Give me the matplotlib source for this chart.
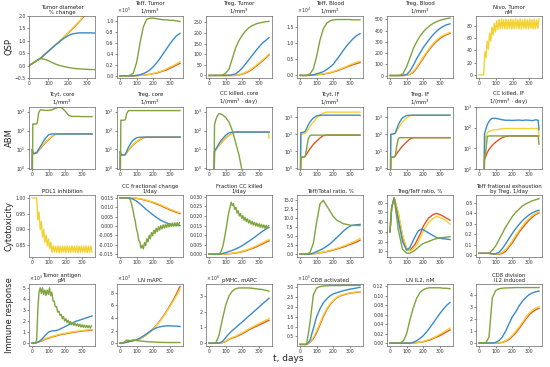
import numpy as np
import matplotlib
matplotlib.use("Agg")
import matplotlib.pyplot as plt
from matplotlib.ticker import NullLocator, FormatStrFormatter

# colores de las cuatro simulaciones
c_red = '#e2532d'
c_yel = '#f3d230'
c_blue = '#3a8bc6'
c_green = '#7ea43c'

# ---------------- datos ----------------
# malla gruesa de tiempo, dias
t = [0, 20, 40, 60, 80, 100, 120, 140, 160, 180, 200, 220, 240, 260, 280, 300, 320, 340, 360]
# malla semanal para curvas con dosis (oscilaciones)
t7 = list(range(0, 358, 7))
# malla del ABM
t_abm = [0, 2, 5, 10, 15, 20, 30, 33, 40, 50, 60, 70, 80, 100, 120, 140, 160, 180, 200, 220, 240, 260, 280, 300, 320, 340, 355, 360]
# malla del cociente Treg/Teff
t_ratio = [0, 10, 25, 50, 75, 100, 120, 150, 170, 190, 200, 230, 260, 280, 310, 340, 360]

# QSP
diam_red = [0, 0.1, 0.2, 0.3, 0.44, 0.58, 0.72, 0.86, 1.0, 1.15, 1.3, 1.45, 1.61, 1.78, 1.96, 2.14, 2.32, 2.5, 2.7]
diam_yel = [0, 0.1, 0.2, 0.31, 0.45, 0.59, 0.73, 0.87, 1.01, 1.16, 1.31, 1.47, 1.63, 1.8, 1.98, 2.16, 2.34, 2.52, 2.72]
diam_blue = [0, 0.1, 0.2, 0.3, 0.44, 0.58, 0.72, 0.85, 0.98, 1.1, 1.2, 1.27, 1.3, 1.32, 1.32, 1.32, 1.32, 1.31, 1.3]
diam_green = [0, 0.1, 0.2, 0.28, 0.26, 0.2, 0.12, 0.05, 0.0, -0.04, -0.07, -0.1, -0.12, -0.13, -0.14, -0.15, -0.16, -0.16, -0.17]

teff_t_red = [0, 0, 0, 0, 0, 0, 0.01, 0.01, 0.02, 0.03, 0.04, 0.05, 0.07, 0.09, 0.11, 0.14, 0.17, 0.2, 0.23]
teff_t_yel = [0, 0, 0, 0, 0, 0, 0.01, 0.01, 0.02, 0.03, 0.045, 0.06, 0.08, 0.1, 0.13, 0.16, 0.19, 0.22, 0.26]
teff_t_blue = [0, 0, 0, 0, 0, 0.01, 0.02, 0.04, 0.07, 0.11, 0.17, 0.24, 0.32, 0.41, 0.5, 0.59, 0.67, 0.74, 0.78]
teff_t_green = [0, 0, 0, 0.01, 0.05, 0.25, 0.6, 0.9, 1.04, 1.06, 1.06, 1.05, 1.04, 1.03, 1.03, 1.02, 1.02, 1.01, 1.0]

treg_t_red = [0, 0, 0, 0, 0, 0, 0, 0, 0, 2, 6, 12, 20, 30, 42, 55, 68, 82, 97]
treg_t_yel = [0, 0, 0, 0, 0, 0, 0, 0, 1, 3, 8, 15, 23, 34, 46, 59, 72, 86, 101]
treg_t_blue = [0, 0, 0, 0, 0, 0, 1, 3, 8, 20, 35, 55, 75, 95, 115, 135, 152, 165, 178]
treg_t_green = [0, 0, 0, 0, 2, 10, 30, 80, 130, 165, 190, 210, 225, 235, 242, 247, 250, 253, 255]

teff_b_red = [0, 0, 0, 0, 0.01, 0.02, 0.03, 0.04, 0.06, 0.08, 0.11, 0.14, 0.18, 0.22, 0.26, 0.3, 0.34, 0.37, 0.4]
teff_b_yel = [0, 0, 0, 0, 0.01, 0.02, 0.03, 0.05, 0.07, 0.09, 0.12, 0.16, 0.2, 0.24, 0.28, 0.33, 0.37, 0.41, 0.44]
teff_b_blue = [0, 0, 0, 0.01, 0.02, 0.05, 0.08, 0.12, 0.18, 0.26, 0.35, 0.49, 0.63, 0.78, 0.92, 1.04, 1.15, 1.24, 1.3]
teff_b_green = [0, 0, 0, 0.05, 0.2, 0.6, 1.1, 1.45, 1.62, 1.7, 1.73, 1.74, 1.74, 1.74, 1.74, 1.74, 1.73, 1.73, 1.73]

treg_b_red = [0, 0, 0, 0, 0, 2, 10, 30, 65, 110, 155, 200, 240, 275, 305, 330, 350, 365, 375]
treg_b_yel = [0, 0, 0, 0, 0, 3, 14, 38, 75, 120, 166, 210, 250, 285, 315, 340, 358, 372, 384]
treg_b_blue = [0, 0, 0, 0, 2, 10, 40, 90, 150, 200, 250, 290, 330, 365, 395, 420, 438, 452, 460]
treg_b_green = [0, 0, 0, 2, 20, 80, 160, 240, 300, 350, 390, 420, 445, 465, 480, 492, 500, 507, 512]

nivo_yel = [0, 0, 0, 0, 0, 38, 28, 55, 42, 68, 55, 78, 65, 84, 70, 88, 74,
            90, 75, 91, 76, 90, 75, 91, 75, 90, 76, 91, 75, 90, 75, 91, 76, 90, 75,
            91, 75, 90, 76, 91, 75, 90, 75, 91, 76, 90, 75, 91, 75, 90, 76, 91]

# ABM (log10 de la densidad)
tcyt_c_red = [-1, 1.0, 0.8, 0.78, 0.78, 0.8, 0.82, 0.85, 0.95, 1.05, 1.15, 1.25, 1.35, 1.52, 1.68, 1.8, 1.82, 1.82, 1.82, 1.82, 1.82, 1.82, 1.82, 1.82, 1.82, 1.82, 1.82, 1.82]
tcyt_c_yel = [-1, 1.0, 0.8, 0.78, 0.78, 0.8, 0.82, 0.86, 0.97, 1.08, 1.18, 1.28, 1.38, 1.55, 1.7, 1.8, 1.82, 1.82, 1.82, 1.82, 1.82, 1.82, 1.82, 1.82, 1.82, 1.82, 1.82, 1.82]
tcyt_c_blue = [-1, 1.0, 0.8, 0.78, 0.78, 0.8, 0.85, 0.9, 1.0, 1.15, 1.3, 1.45, 1.58, 1.78, 1.82, 1.82, 1.82, 1.82, 1.82, 1.82, 1.82, 1.82, 1.82, 1.82, 1.82, 1.82, 1.82, 1.82]
tcyt_c_green = [-1, -1, 2.35, 2.35, 2.35, 2.35, 2.36, 2.5, 2.95, 3.1, 3.1, 3.08, 3.07, 3.07, 3.1, 3.18, 3.25, 3.2, 3.02, 2.8, 2.75, 2.75, 2.75, 2.74, 2.74, 2.74, 2.74, 2.74]

treg_c_red = [-1, 0.9, 0.7, 0.7, 0.7, 0.7, 0.71, 0.73, 0.82, 0.95, 1.05, 1.15, 1.25, 1.4, 1.52, 1.62, 1.65, 1.65, 1.65, 1.65, 1.65, 1.65, 1.65, 1.65, 1.65, 1.65, 1.65, 1.65]
treg_c_yel = [-1, 0.9, 0.7, 0.7, 0.7, 0.7, 0.71, 0.74, 0.84, 0.97, 1.07, 1.17, 1.27, 1.42, 1.54, 1.63, 1.65, 1.65, 1.65, 1.65, 1.65, 1.65, 1.65, 1.65, 1.65, 1.65, 1.65, 1.65]
treg_c_blue = [-1, 0.9, 0.7, 0.7, 0.7, 0.7, 0.72, 0.76, 0.9, 1.1, 1.25, 1.4, 1.5, 1.62, 1.65, 1.65, 1.65, 1.65, 1.65, 1.65, 1.65, 1.65, 1.65, 1.65, 1.65, 1.65, 1.65, 1.65]
treg_c_green = [-1, -1, 2.55, 2.55, 2.55, 2.55, 2.56, 2.6, 2.9, 3.05, 3.06, 3.06, 3.06, 3.06, 3.06, 3.06, 3.06, 3.06, 3.06, 3.06, 3.06, 3.06, 3.06, 3.06, 3.06, 3.06, 3.06, 3.06]

cck_c_red = [-1, -1, -1, -1, -1, -1, -1, 0.9, 0.98, 1.1, 1.22, 1.32, 1.42, 1.6, 1.75, 1.87, 1.92, 1.92, 1.92, 1.92, 1.92, 1.92, 1.92, 1.92, 1.92, 1.92, 1.92, 1.92]
cck_c_yel = [-1, -1, -1, -1, -1, -1, -1, 0.9, 0.98, 1.1, 1.22, 1.32, 1.42, 1.6, 1.75, 1.87, 1.92, 1.92, 1.92, 1.92, 1.92, 1.92, 1.92, 1.92, 1.92, 1.92, 1.92, 1.6]
cck_c_blue = [-1, -1, -1, -1, -1, -1, -1, 0.9, 1.0, 1.15, 1.3, 1.45, 1.55, 1.75, 1.88, 1.92, 1.92, 1.92, 1.92, 1.92, 1.92, 1.92, 1.92, 1.92, 1.92, 1.92, 1.92, 1.92]
cck_c_green = [-1, -1, -1, -1, -1, -1, -1, 2.3, 2.55, 2.78, 2.9, 2.88, 2.84, 2.7, 2.45, 2.0, 1.35, 0.7, -0.2, -1, -1, -1, -1, -1, -1, -1, -1, -1]

tcyt_i_red = [-1, -1, 0.65, 0.65, 0.65, 0.65, 0.7, 0.75, 0.85, 1.0, 1.15, 1.28, 1.4, 1.6, 1.78, 1.92, 1.95, 1.95, 1.95, 1.95, 1.95, 1.95, 1.95, 1.95, 1.95, 1.95, 1.95, 1.95]
tcyt_i_yel = [-1, -1, 2.0, 2.0, 2.0, 2.02, 2.05, 2.08, 2.15, 2.3, 2.45, 2.6, 2.72, 2.95, 3.12, 3.25, 3.3, 3.3, 3.3, 3.3, 3.3, 3.3, 3.3, 3.3, 3.3, 3.3, 3.3, 3.3]
tcyt_i_blue = [-1, -1, 2.1, 2.1, 2.1, 2.12, 2.15, 2.2, 2.35, 2.55, 2.72, 2.85, 2.95, 3.08, 3.12, 3.12, 3.12, 3.12, 3.12, 3.12, 3.12, 3.12, 3.12, 3.12, 3.12, 3.12, 3.12, 3.1]
tcyt_i_green = [-1, -1, 0.65, 0.65, 0.65, 0.65, 0.68, 0.75, 1.2, 1.75, 1.92, 1.95, 1.95, 1.95, 1.95, 1.95, 1.95, 1.95, 1.95, 1.95, 1.95, 1.95, 1.95, 1.95, 1.95, 1.95, 1.95, 1.95]

treg_i_red = [-1, -1, 0.65, 0.65, 0.65, 0.65, 0.7, 0.75, 0.85, 1.0, 1.12, 1.25, 1.35, 1.55, 1.72, 1.8, 1.8, 1.8, 1.8, 1.8, 1.8, 1.8, 1.8, 1.8, 1.8, 1.8, 1.8, 1.8]
treg_i_yel = [-1, -1, 2.0, 2.0, 2.0, 2.02, 2.05, 2.08, 2.2, 2.35, 2.5, 2.65, 2.78, 2.95, 3.08, 3.12, 3.12, 3.12, 3.12, 3.12, 3.12, 3.12, 3.12, 3.12, 3.12, 3.12, 3.12, 3.12]
treg_i_blue = [-1, -1, 2.0, 2.0, 2.0, 2.02, 2.05, 2.1, 2.3, 2.55, 2.75, 2.9, 3.0, 3.1, 3.12, 3.12, 3.12, 3.12, 3.12, 3.12, 3.12, 3.12, 3.12, 3.12, 3.12, 3.12, 3.12, 3.12]
treg_i_green = [-1, -1, 0.65, 0.65, 0.65, 0.65, 0.7, 0.8, 1.3, 1.75, 1.8, 1.8, 1.8, 1.8, 1.8, 1.8, 1.8, 1.8, 1.8, 1.8, 1.8, 1.8, 1.8, 1.8, 1.8, 1.8, 1.8, 1.8]

cck_i_red = [-1, -1, -1, -1, -1, -1, -1, 0.45, 0.6, 0.8, 0.95, 1.05, 1.15, 1.3, 1.42, 1.52, 1.58, 1.6, 1.6, 1.6, 1.6, 1.6, 1.6, 1.6, 1.6, 1.6, 1.6, 1.6]
cck_i_yel = [-1, -1, -1, -1, -1, -1, -1, 1.1, 1.55, 1.75, 1.82, 1.85, 1.88, 1.9, 1.92, 1.95, 1.96, 1.96, 1.96, 1.96, 1.96, 1.96, 1.96, 1.96, 1.96, 1.96, 1.96, 1.6]
cck_i_blue = [-1, -1, -1, -1, -1, -1, -1, 1.7, 1.9, 2.15, 2.3, 2.4, 2.45, 2.45, 2.42, 2.38, 2.36, 2.36, 2.35, 2.36, 2.37, 2.35, 2.37, 2.36, 2.34, 2.38, 2.36, 1.9]
cck_i_green = [-1, -1, -1, -1, -1, -1, -1, 0.6, 0.8, 1.58, 1.6, 1.6, 1.6, 1.6, 1.6, 1.6, 1.6, 1.6, 1.6, 1.6, 1.6, 1.6, 1.6, 1.6, 1.6, 1.6, 1.6, 1.2]

# Citotoxicidad
pdl1_yel = [1.0, 1.0, 1.0, 1.0, 1.0, 0.93, 0.955, 0.90, 0.925, 0.875, 0.90, 0.86, 0.882, 0.848, 0.87, 0.84, 0.86,
            0.828, 0.848, 0.829, 0.847, 0.828, 0.848, 0.827, 0.847, 0.828, 0.848, 0.829, 0.847, 0.828, 0.848,
            0.827, 0.847, 0.828, 0.848, 0.829, 0.847, 0.828, 0.848, 0.827, 0.847, 0.828, 0.848, 0.829, 0.847,
            0.828, 0.848, 0.827, 0.847, 0.828, 0.848, 0.829]

ccf_red = [0.015, 0.015, 0.015, 0.015, 0.0149, 0.0147, 0.0144, 0.014, 0.0135, 0.013, 0.0124, 0.0117, 0.011, 0.0102, 0.0094, 0.0086, 0.0079, 0.0072, 0.0066]
ccf_yel = [0.015, 0.015, 0.015, 0.015, 0.015, 0.0148, 0.0145, 0.0142, 0.0137, 0.0132, 0.0127, 0.0121, 0.0114, 0.0106, 0.0098, 0.009, 0.0083, 0.0076, 0.007]
ccf_blue = [0.015, 0.015, 0.015, 0.0148, 0.0142, 0.0132, 0.0118, 0.0102, 0.0086, 0.0072, 0.0058, 0.0045, 0.0033, 0.0024, 0.0016, 0.001, 0.0006, 0.0003, 0.0002]
ccf_green = [0.015, 0.015, 0.015, 0.015, 0.015, 0.015, 0.015, 0.015, 0.015, 0.0135, 0.0115, 0.0088, 0.0055, 0.0028,
             -0.0012, -0.0035, -0.0075, -0.0085, -0.0118, -0.0102, -0.0122, -0.0088, -0.0105, -0.0068, -0.0085,
             -0.0050, -0.0068, -0.0035, -0.0052, -0.0022, -0.0040, -0.0012, -0.0030, -0.0004, -0.0022, 0.0002,
             -0.0016, 0.0006, -0.0011, 0.0009, -0.0008, 0.0012, -0.0005, 0.0014, -0.0003, 0.0016, -0.0001,
             0.0017, 0.0000, 0.0018, 0.0001, 0.0018]

fck_red = [0, 0, 0, 0, 0, 0.0001, 0.0002, 0.0004, 0.0006, 0.0009, 0.0013, 0.0018, 0.0024, 0.003, 0.0037, 0.0045, 0.0053, 0.0062, 0.007]
fck_yel = [0, 0, 0, 0, 0, 0.0001, 0.0003, 0.0005, 0.0008, 0.0011, 0.0016, 0.0021, 0.0027, 0.0034, 0.0042, 0.005, 0.0059, 0.0068, 0.0077]
fck_blue = [0, 0, 0, 0, 0.0003, 0.0008, 0.0014, 0.002, 0.0027, 0.0035, 0.0045, 0.0056, 0.0068, 0.008, 0.0093, 0.0106, 0.0119, 0.0131, 0.014]
fck_green = [0, 0, 0, 0, 0, 0, 0, 0, 0, 0.0003, 0.001, 0.0025, 0.0045, 0.0075, 0.011, 0.0145, 0.0185, 0.022,
             0.0245, 0.0272, 0.0255, 0.0265, 0.0235, 0.0245, 0.0215, 0.0228, 0.0200, 0.0213, 0.0188, 0.0202,
             0.0178, 0.0193, 0.0170, 0.0185, 0.0163, 0.0178, 0.0157, 0.0172, 0.0152, 0.0167, 0.0148, 0.0163,
             0.0144, 0.0159, 0.0141, 0.0156, 0.0138, 0.0153, 0.0136, 0.0151, 0.0134, 0.0149]

tt_red = [0, 0, 0, 0, 0.1, 0.2, 0.35, 0.5, 0.7, 0.9, 1.15, 1.4, 1.7, 2.0, 2.35, 2.7, 3.05, 3.4, 3.9]
tt_yel = [0, 0, 0, 0, 0.1, 0.25, 0.4, 0.6, 0.8, 1.05, 1.3, 1.6, 1.9, 2.25, 2.6, 3.0, 3.4, 3.85, 4.4]
tt_blue = [0, 0, 0, 0, 0.3, 0.7, 1.1, 1.6, 2.2, 2.9, 3.7, 4.6, 5.5, 6.4, 7.2, 7.8, 8.1, 8.2, 8.3]
tt_green = [0, 0, 0, 0.5, 3.0, 9.0, 14.0, 15.0, 13.5, 12.0, 10.5, 9.5, 9.0, 8.5, 8.3, 8.1, 8.0, 8.0, 8.0]

rt_red = [30, 55, 65, 48, 25, 12, 11, 17, 24, 31, 36, 44, 48, 49, 47, 44, 42]
rt_yel = [30, 55, 65, 50, 27, 13, 10, 14, 20, 27, 31, 39, 44, 46, 44, 41, 38]
rt_blue = [30, 55, 65, 42, 20, 11, 14, 25, 31, 33, 32, 29, 26, 24, 23, 22.5, 22]
rt_green = [30, 55, 65, 32, 12, 8, 8, 11, 14, 17, 18, 20, 22, 23, 24, 24.5, 25]

ex_red = [0.02, 0.02, 0.02, 0.02, 0.015, 0.01, 0.01, 0.02, 0.04, 0.08, 0.12, 0.17, 0.22, 0.26, 0.3, 0.335, 0.365, 0.39, 0.405]
ex_yel = [0.02, 0.02, 0.02, 0.02, 0.015, 0.012, 0.015, 0.03, 0.055, 0.095, 0.14, 0.19, 0.235, 0.28, 0.32, 0.35, 0.38, 0.4, 0.415]
ex_blue = [0.02, 0.02, 0.02, 0.02, 0.015, 0.015, 0.03, 0.065, 0.11, 0.16, 0.21, 0.255, 0.295, 0.33, 0.36, 0.385, 0.405, 0.42, 0.43]
ex_green = [0.02, 0.02, 0.02, 0.02, 0.05, 0.09, 0.15, 0.21, 0.27, 0.32, 0.37, 0.41, 0.44, 0.47, 0.49, 0.505, 0.52, 0.53, 0.54]

# Respuesta inmune
ag_red = [0, 0, 0.1, 0.2, 0.35, 0.45, 0.55, 0.62, 0.72, 0.78, 0.84, 0.9, 0.95, 1.0, 1.04, 1.08, 1.12, 1.15, 1.18]
ag_yel = [0, 0.02, 0.12, 0.24, 0.4, 0.5, 0.6, 0.67, 0.77, 0.83, 0.89, 0.95, 1.0, 1.05, 1.09, 1.13, 1.17, 1.2, 1.24]
ag_blue = [0, 0, 0.1, 0.35, 0.7, 1.0, 1.1, 1.12, 1.2, 1.35, 1.5, 1.65, 1.8, 1.95, 2.05, 2.15, 2.25, 2.35, 2.45]
ag_green = [0, 0, 0, 0, 0.3, 3.0, 4.6, 5.0, 4.5, 5.0, 4.4, 4.8, 4.3, 4.8, 4.4, 5.0, 4.3, 4.6, 3.8, 3.8,
            3.3, 3.3, 2.8, 2.9, 2.5, 2.6, 2.2, 2.4, 2.0, 2.2, 1.85, 2.05, 1.75, 1.95, 1.65, 1.85, 1.6, 1.8,
            1.55, 1.75, 1.5, 1.7, 1.45, 1.65, 1.42, 1.62, 1.4, 1.6, 1.38, 1.58, 1.36, 1.56]

map_red = [0, 0.05, 0.15, 0.3, 0.4, 0.5, 0.7, 1.0, 1.35, 1.8, 2.3, 2.9, 3.55, 4.3, 5.1, 6.0, 6.9, 7.9, 9.0]
map_yel = [0, 0.05, 0.15, 0.3, 0.4, 0.5, 0.7, 1.0, 1.35, 1.78, 2.27, 2.85, 3.5, 4.2, 5.0, 5.85, 6.7, 7.6, 8.6]
map_blue = [0, 0.05, 0.15, 0.3, 0.4, 0.55, 0.8, 1.15, 1.5, 1.9, 2.2, 2.45, 2.6, 2.7, 2.75, 2.75, 2.72, 2.7, 2.65]
map_green = [0, 0.05, 0.5, 0.4, 0.5, 0.4, 0.35, 0.3, 0.25, 0.2, 0.18, 0.15, 0.13, 0.12, 0.1, 0.1, 0.1, 0.1, 0.1]

pm_red = [0, 0, 0, 0, 0.03, 0.1, 0.25, 0.33, 0.4, 0.5, 0.6, 0.72, 0.85, 0.95, 1.05, 1.15, 1.25, 1.35, 1.45]
pm_yel = [0, 0, 0, 0, 0.04, 0.12, 0.28, 0.36, 0.44, 0.55, 0.66, 0.78, 0.91, 1.02, 1.13, 1.24, 1.35, 1.45, 1.55]
pm_blue = [0, 0, 0, 0, 0.1, 0.35, 0.6, 0.8, 0.98, 1.17, 1.35, 1.54, 1.73, 1.91, 2.1, 2.29, 2.48, 2.66, 2.85]
pm_green = [0, 0, 0, 0.5, 1.5, 2.4, 3.0, 3.3, 3.45, 3.5, 3.5, 3.5, 3.5, 3.48, 3.45, 3.42, 3.4, 3.35, 3.3]

cd8_red = [0.1, 0.1, 0.1, 0.2, 0.4, 0.7, 1.1, 1.5, 1.85, 2.1, 2.3, 2.45, 2.55, 2.6, 2.65, 2.68, 2.71, 2.73, 2.75]
cd8_yel = [0.1, 0.1, 0.1, 0.22, 0.45, 0.78, 1.18, 1.57, 1.9, 2.14, 2.33, 2.47, 2.57, 2.62, 2.67, 2.7, 2.73, 2.75, 2.77]
cd8_blue = [0.1, 0.1, 0.1, 0.3, 0.9, 1.5, 1.9, 2.2, 2.4, 2.55, 2.65, 2.71, 2.76, 2.81, 2.85, 2.89, 2.92, 2.95, 2.98]
cd8_green = [0.1, 0.1, 0.1, 1.2, 2.6, 2.95, 3.02, 3.05, 3.06, 3.07, 3.07, 3.07, 3.07, 3.08, 3.08, 3.08, 3.08, 3.08, 3.08]

il2_red = [0, 0, 0, 0, 0, 0, 0, 0, 0.001, 0.002, 0.003, 0.005, 0.007, 0.01, 0.013, 0.016, 0.02, 0.024, 0.028]
il2_yel = [0, 0, 0, 0, 0, 0, 0, 0.0005, 0.0012, 0.0025, 0.0038, 0.006, 0.0085, 0.0115, 0.015, 0.019, 0.023, 0.0275, 0.032]
il2_blue = [0, 0, 0, 0, 0, 0, 0, 0.002, 0.005, 0.01, 0.016, 0.024, 0.033, 0.043, 0.053, 0.063, 0.072, 0.08, 0.086]
il2_green = [0, 0, 0, 0, 0.005, 0.02, 0.05, 0.075, 0.095, 0.107, 0.113, 0.116, 0.117, 0.117, 0.117, 0.117, 0.116, 0.116, 0.115]

div_red = [0, 0, 0, 0, 0, 0, 0, 0.05, 0.15, 0.3, 0.55, 0.85, 1.2, 1.6, 2.0, 2.35, 2.6, 2.8, 2.9]
div_yel = [0, 0, 0, 0, 0, 0, 0.02, 0.08, 0.2, 0.38, 0.65, 0.97, 1.33, 1.73, 2.12, 2.48, 2.75, 2.93, 3.05]
div_blue = [0, 0, 0, 0, 0, 0.05, 0.2, 0.5, 1.0, 1.6, 2.2, 2.6, 3.1, 3.5, 3.8, 4.05, 4.2, 4.3, 4.35]
div_green = [0, 0, 0, 0.5, 3.8, 4.4, 4.55, 4.6, 4.62, 4.63, 4.64, 4.65, 4.65, 4.65, 4.65, 4.65, 4.65, 4.65, 4.65]

# ---------------- figura ----------------
fig = plt.figure(figsize=(5.5, 3.67), dpi=100)
izq = [29, 117, 206, 297, 387, 476]   # borde izquierdo de cada columna, px
arr = [16, 107, 195, 284]             # borde superior de cada fila, px
W, H = 66, 62


def eje(fila, col):
    ax = fig.add_axes([izq[col] / 550, 1 - (arr[fila] + H) / 367, W / 550, H / 367])
    ax.tick_params(labelsize=3.3, length=1.5, width=0.4, pad=1, colors='#333')
    for s in ax.spines.values():
        s.set_linewidth(0.5)
        s.set_color('#666')
    ax.set_xticks([0, 100, 200, 300])
    return ax


def curvas(ax, x, rojo=None, amarillo=None, azul=None, verde=None, log=False):
    for y, c in [(rojo, c_red), (amarillo, c_yel), (azul, c_blue), (verde, c_green)]:
        if y is None:
            continue
        y = np.array(y, dtype=float)
        if log:
            y = 10 ** y
        ax.plot(x, y, color=c, lw=1.0)


def titulo(ax, txt):
    ax.set_title(txt, fontsize=3.9, pad=1.5, linespacing=1.1, color='#222')


def escala(ax, exp):
    ax.text(0.0, 1.015, r'$\times\,10^{%d}$' % exp, transform=ax.transAxes,
            fontsize=3.3, va='bottom', ha='left', color='#333')


def log_eje(ax, top):
    ax.set_yscale('log')
    ax.set_ylim(10 ** -0.04, 10 ** top)
    ax.set_yticks([1, 10, 100, 1000])
    ax.yaxis.set_minor_locator(NullLocator())


# fila 1: QSP
ax = eje(0, 0)
curvas(ax, t, diam_red, diam_yel, diam_blue, diam_green)
ax.set_xlim(0, 340)
ax.set_ylim(-0.5, 2.0)
ax.set_yticks([-0.5, 0, 0.5, 1.0, 1.5, 2.0])
titulo(ax, 'Tumor diameter\n% change')

ax = eje(0, 1)
curvas(ax, t, teff_t_red, teff_t_yel, teff_t_blue, teff_t_green)
ax.set_ylim(-0.04, 1.1)
ax.set_yticks([0, 0.2, 0.4, 0.6, 0.8, 1.0])
titulo(ax, 'Teff, Tumor\n1/mm$^3$')
escala(ax, 5)

ax = eje(0, 2)
curvas(ax, t, treg_t_red, treg_t_yel, treg_t_blue, treg_t_green)
ax.set_ylim(-12, 280)
ax.set_yticks([0, 50, 100, 150, 200, 250])
titulo(ax, 'Treg, Tumor\n1/mm$^3$')

ax = eje(0, 3)
curvas(ax, t, teff_b_red, teff_b_yel, teff_b_blue, teff_b_green)
ax.set_ylim(-0.08, 1.85)
ax.set_yticks([0, 0.5, 1.0, 1.5])
titulo(ax, 'Teff, Blood\n1/mm$^3$')
escala(ax, 4)

ax = eje(0, 4)
curvas(ax, t, treg_b_red, treg_b_yel, treg_b_blue, treg_b_green)
ax.set_ylim(-22, 530)
ax.set_yticks([0, 100, 200, 300, 400, 500])
titulo(ax, 'Treg, Blood\n1/mm$^3$')

ax = eje(0, 5)
curvas(ax, t7, amarillo=nivo_yel)
ax.set_ylim(-5, 96)
ax.set_yticks([0, 20, 40, 60, 80])
titulo(ax, 'Nivo, Tumor\nnM')

# fila 2: ABM
ax = eje(1, 0)
curvas(ax, t_abm, tcyt_c_red, tcyt_c_yel, tcyt_c_blue, tcyt_c_green, log=True)
log_eje(ax, 3.25)
titulo(ax, 'Tcyt, core\n1/mm$^3$')

ax = eje(1, 1)
curvas(ax, t_abm, treg_c_red, treg_c_yel, treg_c_blue, treg_c_green, log=True)
log_eje(ax, 3.25)
titulo(ax, 'Treg, core\n1/mm$^3$')

ax = eje(1, 2)
curvas(ax, t_abm, cck_c_red, cck_c_yel, cck_c_blue, cck_c_green, log=True)
log_eje(ax, 3.25)
titulo(ax, 'CC killed, core\n1/(mm$^3$ · day)')

ax = eje(1, 3)
curvas(ax, t_abm, tcyt_i_red, tcyt_i_yel, tcyt_i_blue, tcyt_i_green, log=True)
log_eje(ax, 3.6)
titulo(ax, 'Tcyt, IF\n1/mm$^3$')

ax = eje(1, 4)
curvas(ax, t_abm, treg_i_red, treg_i_yel, treg_i_blue, treg_i_green, log=True)
log_eje(ax, 3.6)
titulo(ax, 'Treg, IF\n1/mm$^3$')

ax = eje(1, 5)
curvas(ax, t_abm, cck_i_red, cck_i_yel, cck_i_blue, cck_i_green, log=True)
log_eje(ax, 3.0)
ax.set_ylim(1, 1000)
titulo(ax, 'CC killed, IF\n1/(mm$^3$ · day)')

# fila 3: citotoxicidad
ax = eje(2, 0)
curvas(ax, t7, amarillo=pdl1_yel)
ax.set_ylim(0.813, 1.009)
ax.set_yticks([0.85, 0.90, 0.95, 1.00])
ax.yaxis.set_major_formatter(FormatStrFormatter('%.2f'))
titulo(ax, 'PDL1 inhibition')

ax = eje(2, 1)
curvas(ax, t, ccf_red, ccf_yel, ccf_blue)
curvas(ax, t7, verde=ccf_green)
ax.set_ylim(-0.0165, 0.0165)
ax.set_yticks([-0.015, -0.01, -0.005, 0, 0.005, 0.01, 0.015])
ax.yaxis.set_major_formatter(FormatStrFormatter('%.3f'))
titulo(ax, 'CC fractional change\n1/day')

ax = eje(2, 2)
curvas(ax, t, fck_red, fck_yel, fck_blue)
curvas(ax, t7, verde=fck_green)
ax.set_ylim(-0.0015, 0.031)
ax.set_yticks([0, 0.005, 0.01, 0.015, 0.02, 0.025, 0.03])
ax.yaxis.set_major_formatter(FormatStrFormatter('%.3f'))
titulo(ax, 'Fraction CC killed\n1/day')

ax = eje(2, 3)
curvas(ax, t, tt_red, tt_yel, tt_blue, tt_green)
ax.set_ylim(-0.8, 16.5)
ax.set_yticks([0, 2.5, 5, 7.5, 10, 12.5, 15])
ax.yaxis.set_major_formatter(FormatStrFormatter('%.1f'))
titulo(ax, 'Teff/Total ratio, %')

ax = eje(2, 4)
curvas(ax, t_ratio, rt_red, rt_yel, rt_blue, rt_green)
ax.set_ylim(4, 68)
ax.set_yticks([10, 20, 30, 40, 50, 60])
titulo(ax, 'Treg/Teff ratio, %')

ax = eje(2, 5)
curvas(ax, t, ex_red, ex_yel, ex_blue, ex_green)
ax.set_ylim(-0.015, 0.575)
ax.set_yticks([0, 0.1, 0.2, 0.3, 0.4, 0.5])
titulo(ax, 'Teff frational exhaustion\nby Treg, 1/day')

# fila 4: respuesta inmune
ax = eje(3, 0)
curvas(ax, t, ag_red, ag_yel, ag_blue)
curvas(ax, t7, verde=ag_green)
ax.set_ylim(-0.27, 5.35)
ax.set_yticks([0, 1, 2, 3, 4, 5])
titulo(ax, 'Tumor antigen\npM')
escala(ax, 3)

ax = eje(3, 1)
curvas(ax, t, map_red, map_yel, map_blue, map_green)
ax.set_ylim(-0.45, 9.4)
ax.set_yticks([0, 2, 4, 6, 8])
titulo(ax, 'LN mAPC')
escala(ax, 3)

ax = eje(3, 2)
curvas(ax, t, pm_red, pm_yel, pm_blue, pm_green)
ax.set_ylim(-0.18, 3.75)
ax.set_yticks([0, 1, 2, 3])
titulo(ax, 'pMHC, mAPC')
escala(ax, 6)

ax = eje(3, 3)
curvas(ax, t, cd8_red, cd8_yel, cd8_blue, cd8_green)
ax.set_ylim(0.02, 3.15)
ax.set_yticks([0.5, 1.0, 1.5, 2.0, 2.5, 3.0])
ax.yaxis.set_major_formatter(FormatStrFormatter('%.1f'))
titulo(ax, 'CD8 activated')
escala(ax, 5)

ax = eje(3, 4)
curvas(ax, t, il2_red, il2_yel, il2_blue, il2_green)
ax.set_ylim(-0.006, 0.125)
ax.set_yticks([0, 0.02, 0.04, 0.06, 0.08, 0.10, 0.12])
ax.yaxis.set_major_formatter(FormatStrFormatter('%.2f'))
titulo(ax, 'LN IL2, nM')

ax = eje(3, 5)
curvas(ax, t, div_red, div_yel, div_blue, div_green)
ax.set_ylim(-0.25, 4.95)
ax.set_yticks([0, 1, 2, 3, 4])
titulo(ax, 'CD8 division\nIL2 induced')

# etiquetas de filas y del eje comun
for y, txt in [(0.872, 'QSP'), (0.624, 'ABM'), (0.384, 'Cytotoxicity'), (0.142, 'Immune response')]:
    fig.text(0.017, y, txt, rotation=90, fontsize=6, va='center', ha='center', color='#222')
fig.text(0.524, 0.022, 't, days', fontsize=6.5, ha='center', va='center', color='#222')

plt.savefig('out.png', dpi=100)
